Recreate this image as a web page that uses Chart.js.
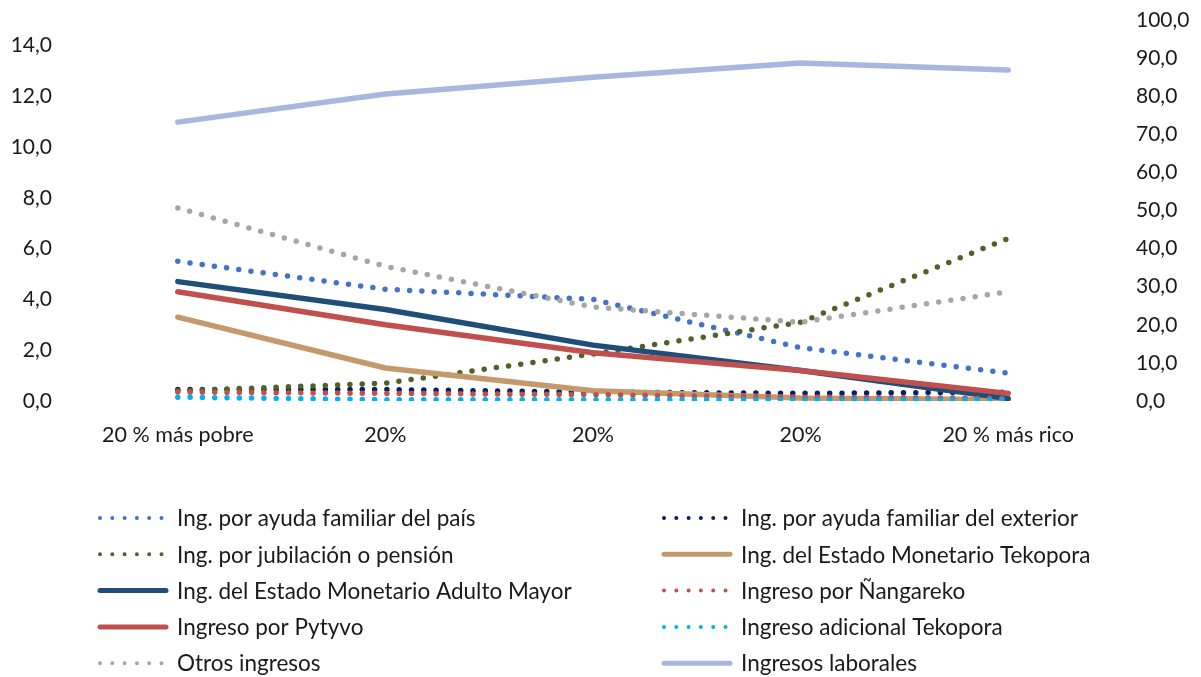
<!DOCTYPE html>
<html>
<head>
<meta charset="utf-8">
<script src="https://cdn.jsdelivr.net/npm/chart.js@4"></script>
<style>
  body { margin: 0; background: #fff; }
  #chart { display: block; }
</style>
</head>
<body>
<canvas id="chart" width="1201" height="677"></canvas>
<script>
const categories = ['20 % más pobre', '20%', '20%', '20%', '20 % más rico'];

const ayudaPais = [5.5, 4.4, 4.0, 2.1, 1.1];
const ayudaExterior = [0.45, 0.45, 0.35, 0.3, 0.35];
const jubilacion = [0.4, 0.7, 1.85, 3.1, 6.4];
const tekopora = [3.3, 1.3, 0.4, 0.12, 0.05];
const adultoMayor = [4.7, 3.6, 2.2, 1.2, 0.1];
const nangareko = [0.35, 0.3, 0.25, 0.15, 0.1];
const pytyvo = [4.3, 3.0, 1.9, 1.2, 0.3];
const adicionalTekopora = [0.15, 0.05, 0.05, 0.05, 0.05];
const otros = [7.6, 5.3, 3.7, 3.1, 4.3];
const laborales = [73.2, 80.6, 85.0, 88.7, 86.9]; // eje derecho

const fontName = 'Lato';
const textColor = '#1a1a1a';

function dotted(label, data, color) {
    return {
        label: label,
        data: data,
        borderColor: color,
        backgroundColor: color,
        borderWidth: 5.5,
        borderDash: [0, 12.3],
        borderCapStyle: 'round',
        pointRadius: 0,
        tension: 0,
        yAxisID: 'y'
    };
}

function solid(label, data, color, axis) {
    return {
        label: label,
        data: data,
        borderColor: color,
        backgroundColor: color,
        borderWidth: 5.5,
        borderCapStyle: 'round',
        borderJoinStyle: 'round',
        pointRadius: 0,
        tension: 0,
        yAxisID: axis || 'y'
    };
}

const datasets = [
    dotted('Ing. por ayuda familiar del país', ayudaPais, '#4472C4'),
    dotted('Ing. por ayuda familiar del exterior', ayudaExterior, '#0B1F5E'),
    dotted('Ing. por jubilación o pensión', jubilacion, '#4F6228'),
    solid('Ing. del Estado Monetario Tekopora', tekopora, '#C49A6C'),
    solid('Ing. del Estado Monetario Adulto Mayor', adultoMayor, '#1F4E79'),
    dotted('Ingreso por Ñangareko', nangareko, '#C0504D'),
    solid('Ingreso por Pytyvo', pytyvo, '#C0504D'),
    dotted('Ingreso adicional Tekopora', adicionalTekopora, '#00B0F0'),
    dotted('Otros ingresos', otros, '#A6A6A6'),
    solid('Ingresos laborales', laborales, '#A9B6DF', 'y1')
];
// later series on top, like the original
datasets.forEach((ds, i) => { ds.order = datasets.length - i; });

const fmt = v => v.toFixed(1).replace('.', ',');

// two column legend drawn under the plot
const gridLegend = {
    id: 'gridLegend',
    afterDraw(chart) {
        const ctx = chart.ctx;
        const colX = [100, 664];
        const top = 518;
        const rowH = 36.3;
        ctx.save();
        ctx.font = '22.5px ' + fontName;
        ctx.textBaseline = 'middle';
        ctx.fillStyle = textColor;
        chart.data.datasets.forEach((ds, i) => {
            const x = colX[i % 2];
            const y = top + Math.floor(i / 2) * rowH;
            ctx.beginPath();
            ctx.strokeStyle = ds.borderColor;
            ctx.lineCap = 'round';
            if (ds.borderDash) {
                ctx.lineWidth = 4;
                ctx.setLineDash([0, 12.3]);
                ctx.moveTo(x, y);
                ctx.lineTo(x + 63, y);
            } else {
                ctx.lineWidth = 5;
                ctx.setLineDash([]);
                ctx.moveTo(x, y);
                ctx.lineTo(x + 66, y);
            }
            ctx.stroke();
            ctx.setLineDash([]);
            ctx.fillText(ds.label, x + 77, y + 1);
        });
        ctx.restore();
    }
};

const noPad = s => { s.paddingTop = 0; s.paddingBottom = 0; };

new Chart(document.getElementById('chart'), {
    type: 'line',
    data: {
        labels: categories,
        datasets: datasets
    },
    options: {
        responsive: false,
        animation: false,
        layout: {
            padding: { top: 20, bottom: 231, left: 0, right: 0 }
        },
        plugins: {
            legend: { display: false },
            tooltip: { enabled: false }
        },
        scales: {
            x: {
                offset: true,
                grid: { display: false, drawTicks: false, offset: true },
                border: { display: false },
                ticks: {
                    padding: 21,
                    color: textColor,
                    font: { family: fontName, size: 21.5 },
                    maxRotation: 0,
                    autoSkip: false
                },
                afterFit: s => { s.height = 45; }
            },
            y: {
                position: 'left',
                min: 0,
                max: 15,
                grid: { display: false, drawTicks: false },
                border: { display: false },
                ticks: {
                    stepSize: 2,
                    includeBounds: false,
                    padding: 22,
                    color: textColor,
                    font: { family: fontName, size: 21 },
                    callback: v => fmt(v)
                },
                afterFit: s => { s.width = 74; noPad(s); }
            },
            y1: {
                position: 'right',
                min: 0,
                max: 100,
                grid: { display: false, drawTicks: false },
                border: { display: false },
                ticks: {
                    stepSize: 10,
                    padding: 24,
                    color: textColor,
                    font: { family: fontName, size: 21 },
                    callback: v => fmt(v)
                },
                afterFit: s => { s.width = 89; noPad(s); }
            }
        }
    },
    plugins: [gridLegend]
});
</script>
</body>
</html>
